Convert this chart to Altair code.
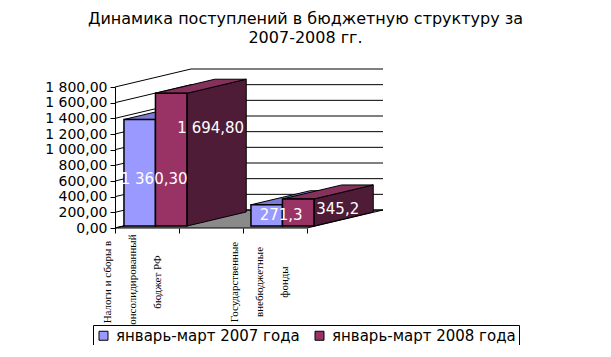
import altair as alt
import pandas as pd

# ---------------- data ----------------
categories = ["Налоги и сборы в консолидированный бюджет РФ", "Государственные внебюджетные фонды"]
category_lines = [["Налоги и сборы в", "консолидированный", "бюджет РФ"],
                  ["Государственные", "внебюджетные", "фонды"]]
series = ["январь-март 2007 года", "январь-март 2008 года"]
values_2007 = [1360.3, 271.3]
values_2008 = [1694.8, 345.2]
labels_2007 = ["1 360,30", "271,3"]
labels_2008 = ["1 694,80", "345,2"]
y_ticks = [0, 200, 400, 600, 800, 1000, 1200, 1400, 1600, 1800]
title_lines = ["Динамика поступлений в бюджетную структуру за", "2007-2008 гг."]

# ---------------- layout / style constants ----------------
VIEW_W, VIEW_H = 285, 141
YMAX = 1800
PX2V = YMAX / VIEW_H
AXIS_LEN = 192            # front floor edge (x units)
DX = 76                   # depth shift in x units
DY = 18 * PX2V            # depth shift in value units
G0, GSTEP, BW = 0.6, 127, 31.5
T0, T1 = 0.11, 0.89       # bar depth start / end
LABEL_T = [0.3, 0.63]
LABEL_F = [0.43, 0.77]
LABEL_DT = [0.2, -0.1]
CAT_DX = -8

front_cols = ["#9999FF", "#993366"]
top_cols = ["#7b7bd4", "#86305c"]
side_cols = ["#4d4d80", "#4f1c38"]
FONT = "DejaVu Sans"

all_vals = [values_2007, values_2008]
all_labels = [labels_2007, labels_2008]

xscale = alt.Scale(domain=[0, VIEW_W], nice=False, zero=False)
yscale = alt.Scale(domain=[0, YMAX], nice=False, zero=False)
xaxis = alt.Axis(values=[0, 64, 128, 192], labels=False, domain=False, grid=False,
                 ticks=True, tickSize=5, tickColor="black", title=None)
yaxis = alt.Axis(values=y_ticks, grid=False, domain=True, domainColor="black",
                 tickColor="black", tickSize=5, title=None,
                 labelExpr="replace(replace(format(datum.value, ',.2f'), ',', ' '), '.', ',')",
                 labelFont=FONT, labelFontSize=14, labelColor="black", labelPadding=3)


def X(f="x"):
    return alt.X(f, type="quantitative", scale=xscale, axis=xaxis)


def Y(f="y"):
    return alt.Y(f, type="quantitative", scale=yscale, axis=yaxis, stack=None)


def para_h(xa, xb, y0, shift_x, y1):
    """Parallelogram with horizontal edges: bottom edge xa..xb at y0,
    top edge (xa+shift_x)..(xb+shift_x) at y1, expressed as a vertical area."""
    xs = sorted({xa, xb, xa + shift_x, xb + shift_x})
    rows = []
    for x in xs:
        if x <= xb:
            lo = y0
        else:
            lo = y0 + (y1 - y0) * (x - xb) / shift_x
        if x <= xa + shift_x:
            hi = y0 + (y1 - y0) * (x - xa) / shift_x
        else:
            hi = y1
        rows.append({"x": x, "y": lo, "y2": hi})
    return pd.DataFrame(rows)


def poly_layer(df, fill, sw=1.0):
    return alt.Chart(df).mark_area(
        orient="vertical", interpolate="linear", fill=fill, fillOpacity=1,
        stroke="black", strokeWidth=sw).encode(x=X(), y=Y(), y2="y2")


# floor
floor = poly_layer(para_h(0, AXIS_LEN, 0, DX, DY), "#8a8a8a")

# wall grid lines
rows = []
for v in y_ticks:
    rows.append({"x": 0, "y": v, "x2": DX, "y2": v + DY})
    rows.append({"x": DX, "y": v + DY, "x2": DX + AXIS_LEN, "y2": v + DY})
grid = alt.Chart(pd.DataFrame(rows)).mark_rule(color="black", strokeWidth=1).encode(
    x=X(), y=Y(), x2="x2", y2="y2")

layers = [floor, grid]
legend = alt.Legend(orient="none", legendX=-22, legendY=238, direction="horizontal", title=None,
                    strokeColor="black", fillColor="white", padding=3, symbolType="square",
                    symbolSize=81, symbolStrokeColor="black", symbolStrokeWidth=1,
                    symbolOpacity=1, labelFont=FONT, labelFontSize=15, labelColor="black",
                    labelLimit=0, columnPadding=12, labelOffset=5)
fill_scale = alt.Scale(domain=series, range=front_cols)

label_rows = []
for i, cat in enumerate(categories):
    for j, s in enumerate(series):
        v = all_vals[j][i]
        xl = G0 + i * GSTEP + j * BW
        side_df = pd.DataFrame([
            {"x": xl + BW + DX * T0, "y": DY * T0, "y2": v + DY * T0},
            {"x": xl + BW + DX * T1, "y": DY * T1, "y2": v + DY * T1},
        ])
        top_df = para_h(xl + DX * T0, xl + BW + DX * T0, v + DY * T0,
                        DX * (T1 - T0), v + DY * T1)
        front_df = pd.DataFrame([{"s": s, "x": xl + DX * T0, "x2": xl + BW + DX * T0,
                                  "y": DY * T0, "y2": v + DY * T0}])
        label_rows.append({"x": xl + BW / 2 + DX * LABEL_T[j],
                           "y": v * LABEL_F[j] + DY * LABEL_DT[j],
                           "t": all_labels[j][i]})
        front = alt.Chart(front_df).mark_rect(stroke="black", strokeWidth=1.5, opacity=1).encode(
            x=X(), x2="x2", y=Y(), y2="y2",
            fill=alt.Fill("s:N", scale=fill_scale, legend=legend))
        layers += [poly_layer(side_df, side_cols[j]), poly_layer(top_df, top_cols[j]), front]

vlabels = alt.Chart(pd.DataFrame(label_rows)).mark_text(
    color="white", font=FONT, fontSize=15, align="center", baseline="middle").encode(
    x=X(), y=Y(), text="t:N")

cat_df = pd.DataFrame({"x": [G0 + i * GSTEP + CAT_DX for i in range(len(categories))],
                       "t": ["\n".join(l) for l in category_lines]})
clabels = alt.Chart(cat_df).mark_text(
    angle=270, lineBreak="\n", lineHeight=25, font="Liberation Serif", fontSize=11,
    color="black", align="center", baseline="middle").encode(
    x=X(), y=alt.value(195), text="t:N")

layers += [vlabels, clabels]

chart = alt.layer(*layers).properties(
    width=VIEW_W, height=VIEW_H,
    title=alt.TitleParams(text=title_lines, font=FONT, fontSize=16, fontWeight="normal",
                          color="black", anchor="middle", dx=48, offset=23, lineHeight=19),
    autosize=alt.AutoSizeParams(type="none"),
    padding={"left": 107, "top": 79, "right": 203, "bottom": 117},
    background="white",
).configure_view(stroke=None)

chart.save("out.html", embed_options={"renderer": "svg", "actions": False})
